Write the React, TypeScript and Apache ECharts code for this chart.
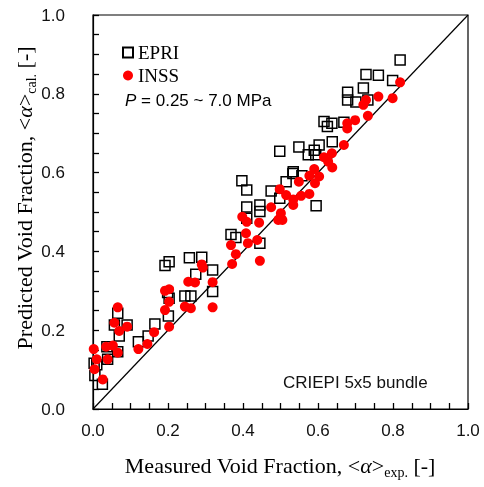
import React, { useEffect, useRef } from "react";
import * as echarts from "echarts";

// [measured, predicted]
const epriPoints: [number, number][] = [
  [0.819, 0.886], [0.728, 0.849], [0.761, 0.847], [0.799, 0.834], [0.721, 0.815],
  [0.679, 0.804], [0.679, 0.784], [0.701, 0.779], [0.733, 0.784], [0.616, 0.730],
  [0.637, 0.725], [0.625, 0.717], [0.669, 0.728], [0.638, 0.678], [0.603, 0.670],
  [0.549, 0.665], [0.498, 0.654], [0.590, 0.657], [0.574, 0.645], [0.594, 0.645],
  [0.534, 0.602], [0.533, 0.598], [0.557, 0.592], [0.515, 0.577], [0.397, 0.579],
  [0.410, 0.556], [0.475, 0.553], [0.498, 0.535], [0.410, 0.513], [0.445, 0.518],
  [0.595, 0.516], [0.410, 0.484], [0.445, 0.501], [0.368, 0.443], [0.381, 0.435],
  [0.445, 0.421], [0.192, 0.364], [0.203, 0.374], [0.257, 0.384], [0.290, 0.385],
  [0.274, 0.342], [0.319, 0.353], [0.319, 0.298], [0.245, 0.287], [0.261, 0.287],
  [0.199, 0.296], [0.203, 0.281], [0.201, 0.236], [0.066, 0.243], [0.057, 0.213],
  [0.091, 0.213], [0.070, 0.185], [0.165, 0.216], [0.147, 0.185], [0.121, 0.171],
  [0.037, 0.158], [0.039, 0.126], [0.066, 0.145], [0.003, 0.116], [0.010, 0.112],
  [0.005, 0.085], [0.025, 0.063],
];

const inssPoints: [number, number][] = [
  [0.819, 0.829], [0.761, 0.793], [0.799, 0.789], [0.728, 0.784], [0.721, 0.772],
  [0.733, 0.744], [0.699, 0.733], [0.678, 0.725], [0.678, 0.712], [0.669, 0.670],
  [0.637, 0.649], [0.616, 0.639], [0.627, 0.628], [0.638, 0.613], [0.590, 0.609],
  [0.577, 0.592], [0.603, 0.590], [0.592, 0.573], [0.549, 0.577], [0.498, 0.558],
  [0.515, 0.543], [0.534, 0.532], [0.555, 0.541], [0.577, 0.546], [0.534, 0.518],
  [0.475, 0.512], [0.398, 0.488], [0.410, 0.475], [0.443, 0.473], [0.501, 0.497],
  [0.494, 0.480], [0.505, 0.480], [0.408, 0.446], [0.413, 0.421], [0.438, 0.429],
  [0.368, 0.416], [0.381, 0.393], [0.371, 0.368], [0.445, 0.376], [0.290, 0.367],
  [0.293, 0.359], [0.254, 0.323], [0.272, 0.321], [0.319, 0.322], [0.192, 0.300],
  [0.203, 0.304], [0.203, 0.272], [0.192, 0.251], [0.245, 0.260], [0.261, 0.256],
  [0.319, 0.258], [0.203, 0.209], [0.066, 0.258], [0.057, 0.219], [0.070, 0.198],
  [0.091, 0.209], [0.163, 0.195], [0.145, 0.165], [0.121, 0.152], [0.035, 0.158],
  [0.053, 0.161], [0.066, 0.143], [0.039, 0.126], [0.002, 0.152], [0.010, 0.126],
  [0.004, 0.101], [0.026, 0.075],
];

const diagonal: [number, number][] = [[0, 0], [1, 1]];

const SERIF = "'Liberation Serif', 'Times New Roman', serif";
const SANS = "'Liberation Sans', Arial, sans-serif";

export default function App() {
  const ref = useRef<HTMLDivElement>(null);

  useEffect(() => {
    if (!ref.current) return;
    const chart = echarts.init(ref.current, undefined, { renderer: "svg" });
    const titleRich = {
      t: { fontFamily: SERIF, fontSize: 22, color: "#000", lineHeight: 28 },
      a: { fontFamily: SERIF, fontSize: 22, fontStyle: "italic", color: "#000", lineHeight: 28 },
      sub: { fontFamily: SERIF, fontSize: 14, color: "#000", verticalAlign: "bottom" },
    };
    const axisCommon = {
      type: "value",
      min: 0,
      max: 1,
      interval: 0.2,
      axisLine: { show: true, onZero: false, lineStyle: { color: "#000", width: 1.2 } },
      axisTick: { show: true, inside: true, length: 6, lineStyle: { color: "#000", width: 1.3 } },
      minorTick: { show: true, splitNumber: 4, length: 6, lineStyle: { color: "#000", width: 1.3 } },
      splitLine: { show: false },
      minorSplitLine: { show: false },
    };
    chart.setOption({
      animation: false,
      grid: {
        left: 93,
        right: 16,
        top: 15,
        bottom: 78,
        show: true,
        borderColor: "#000",
        borderWidth: 1.2,
        backgroundColor: "transparent",
      },
      xAxis: {
        ...axisCommon,
        axisLabel: {
          margin: 13,
          fontFamily: SANS,
          fontSize: 17,
          color: "#111",
          formatter: (v: number) => v.toFixed(1),
        },
      },
      yAxis: {
        ...axisCommon,
        axisLabel: {
          margin: 28,
          fontFamily: SANS,
          fontSize: 17,
          color: "#111",
          formatter: (v: number) => v.toFixed(1),
        },
      },
      legend: {
        orient: "vertical",
        left: 117,
        top: 38,
        itemWidth: 10,
        itemHeight: 10,
        itemGap: 4,
        textStyle: { fontFamily: SERIF, fontSize: 19, color: "#000" },
        data: [
          { name: "EPRI", icon: "rect" },
          { name: "INSS", icon: "circle" },
        ],
      },
      series: [
        {
          type: "line",
          name: "diag",
          data: diagonal,
          symbol: "none",
          lineStyle: { color: "#000", width: 1.2 },
          silent: true,
          z: 1,
        },
        {
          type: "scatter",
          name: "EPRI",
          data: epriPoints,
          symbol: "rect",
          symbolSize: 10,
          itemStyle: {
            color: "rgba(255,255,255,0)",
            borderColor: "#000",
            borderWidth: 1.5,
            opacity: 1,
          },
          z: 2,
        },
        {
          type: "scatter",
          name: "INSS",
          data: inssPoints,
          symbol: "circle",
          symbolSize: 10,
          itemStyle: { color: "#ff0000", opacity: 1 },
          z: 3,
        },
      ],
      graphic: [
        {
          type: "text",
          left: 125,
          top: 92,
          style: {
            text: "{pi|P}{t| = 0.25 ~ 7.0 MPa}",
            rich: {
              pi: { fontFamily: SANS, fontSize: 17, fontStyle: "italic", color: "#404040" },
              t: { fontFamily: SANS, fontSize: 17, color: "#404040" },
            },
          },
        },
        {
          type: "text",
          left: 283,
          top: 374,
          style: {
            text: "CRIEPI 5x5 bundle",
            fontFamily: SANS,
            fontSize: 17,
            fill: "#111",
          },
        },
        {
          type: "text",
          x: 280,
          y: 465,
          style: {
            text: "{t|Measured Void Fraction, <}{a|α}{t|>}{sub|exp.}{t| [-]}",
            align: "center",
            verticalAlign: "middle",
            rich: titleRich,
          },
        },
        {
          type: "text",
          x: 24,
          y: 198,
          rotation: Math.PI / 2,
          style: {
            text: "{t|Predicted Void Fraction, <}{a|α}{t|>}{sub|cal.}{t| [-]}",
            align: "center",
            verticalAlign: "middle",
            rich: titleRich,
          },
        },
      ],
    });
    return () => chart.dispose();
  }, []);

  return (
    <div
      ref={ref}
      style={{ position: "fixed", left: 0, top: 0, width: 484, height: 487 }}
    />
  );
}
